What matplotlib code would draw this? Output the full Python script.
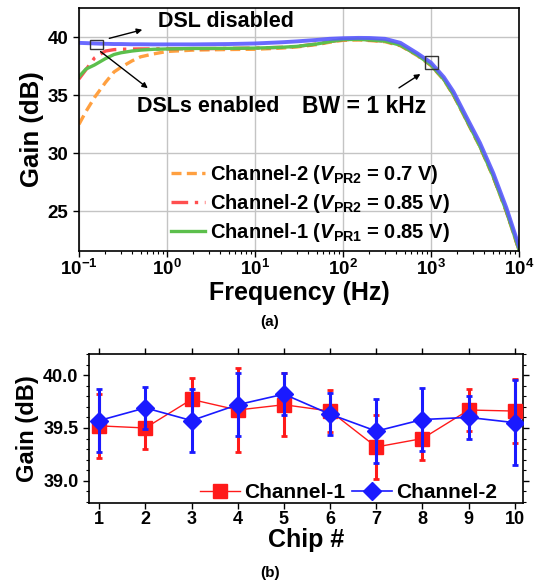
import matplotlib
matplotlib.use("Agg")
import matplotlib.pyplot as plt
import numpy as np
from matplotlib.patches import Rectangle

plt.rcParams["font.family"] = ["Liberation Sans", "DejaVu Sans"]
plt.rcParams["font.weight"] = "bold"
plt.rcParams["mathtext.fontset"] = "custom"
plt.rcParams["mathtext.rm"] = "Liberation Sans:bold"
plt.rcParams["mathtext.bf"] = "Liberation Sans:bold"
plt.rcParams["mathtext.it"] = "Liberation Sans:italic:bold"

# ---- (a) frequency response ----
freq = [0.1, 0.12, 0.15, 0.2, 0.25, 0.3, 0.4, 0.5, 0.7, 1, 2, 5, 10, 20, 30, 50, 70,
        100, 150, 200, 300, 450, 700, 1000, 1400, 1800, 2500, 3600, 5100, 7200, 10000]
gain_dsl_off = [39.5, 39.48, 39.45, 39.42, 39.4, 39.4, 39.38, 39.38, 39.37, 39.37, 39.37,
                39.4, 39.45, 39.55, 39.63, 39.75, 39.85, 39.9, 39.93, 39.92, 39.85, 39.5,
                38.6, 37.8, 36.55, 35.3, 33.2, 30.9, 28.3, 25.3, 22.0]
gain_ch1_085 = [36.6, 37.25, 37.6, 38.15, 38.5, 38.65, 38.8, 38.88, 38.95, 38.98, 39.02,
                39.03, 39.05, 39.12, 39.2, 39.4, 39.6, 39.78, 39.8, 39.75, 39.65, 39.3,
                38.45, 37.6, 36.35, 35.05, 32.95, 30.6, 28.0, 25.0, 21.7]
gain_ch2_085 = [36.4, 37.2, 38.2, 38.8, 38.92, 38.95, 38.97, 38.98, 38.98, 38.99, 39.0,
                39.02, 39.05, 39.12, 39.2, 39.4, 39.6, 39.78, 39.8, 39.75, 39.65, 39.3,
                38.45, 37.6, 36.35, 35.05, 32.95, 30.6, 28.0, 25.0, 21.7]
gain_ch2_07 = [32.5, 33.6, 34.8, 36.1, 37.0, 37.4, 37.95, 38.3, 38.55, 38.76, 38.88,
               38.93, 38.95, 39.05, 39.15, 39.35, 39.55, 39.72, 39.75, 39.7, 39.6, 39.25,
               38.4, 37.55, 36.3, 35.0, 32.9, 30.55, 27.95, 24.95, 21.65]

labels_a = [r"Channel-2 ($V_{\mathrm{PR2}}$ = 0.7 V)",
            r"Channel-2 ($V_{\mathrm{PR2}}$ = 0.85 V)",
            r"Channel-1 ($V_{\mathrm{PR1}}$ = 0.85 V)"]
xticks_a = [0.1, 1, 10, 100, 1000, 10000]
xticklabels_a = [r"$\mathbf{10^{-1}}$", r"$\mathbf{10^{0}}$", r"$\mathbf{10^{1}}$",
                 r"$\mathbf{10^{2}}$", r"$\mathbf{10^{3}}$", r"$\mathbf{10^{4}}$"]
yticks_a = [25, 30, 35, 40]

# ---- (b) gain spread over chips ----
chip = [1, 2, 3, 4, 5, 6, 7, 8, 9, 10]
ch1_gain = [39.52, 39.50, 39.77, 39.67, 39.72, 39.66, 39.32, 39.40, 39.67, 39.66]
ch1_err = [0.30, 0.20, 0.20, 0.40, 0.30, 0.20, 0.30, 0.20, 0.20, 0.30]
ch2_gain = [39.57, 39.69, 39.57, 39.72, 39.82, 39.63, 39.47, 39.58, 39.60, 39.55]
ch2_err = [0.30, 0.20, 0.30, 0.30, 0.20, 0.20, 0.30, 0.30, 0.20, 0.40]
yticks_b = [39.0, 39.5, 40.0]

W, H = 541, 585
fig = plt.figure(figsize=(W / 100, H / 100), dpi=100)

def px(x, y):
    return (x / W, 1 - y / H)

# ---------------- panel (a) ----------------
ax = fig.add_axes([79 / W, 1 - 251 / H, (519 - 79) / W, (251 - 8) / H])
ax.plot(freq, gain_ch2_07, color="#ffa040", lw=2.4, ls=(0, (3, 1.6)), label=labels_a[0])
ax.plot(freq, gain_ch2_085, color="#ff3030", lw=2.4, ls=(0, (5, 2, 1, 2)), alpha=0.85,
        label=labels_a[1])
ax.plot(freq, gain_ch1_085, color="#5cbf4c", lw=2.4, label=labels_a[2])
ax.plot(freq, gain_dsl_off, color="#5a5aff", lw=2.8, alpha=0.9)
ax.set_xscale("log")
ax.set_xlim(0.1, 1e4)
ax.set_ylim(21.6, 42.5)
ax.set_xticks(xticks_a)
ax.set_xticklabels(xticklabels_a)
ax.set_yticks(yticks_a)
ax.grid(True, color="#c4c4c4", lw=1)
ax.set_axisbelow(True)
ax.tick_params(axis="both", which="major", labelsize=13.5, direction="out", length=4, width=1)
ax.tick_params(axis="x", which="minor", direction="out", length=2.5, width=0.8)
ax.tick_params(axis="x", pad=2)
ax.set_xlabel("Frequency (Hz)", fontsize=18, fontweight="bold", labelpad=1)
ax.set_ylabel("Gain (dB)", fontsize=18.5, fontweight="bold", labelpad=3)
for s in ax.spines.values():
    s.set_linewidth(1.2)

# annotation boxes and arrows
ax.add_patch(Rectangle((0.133, 38.99), 0.187 - 0.133, 39.77 - 38.99, fill=False,
                       ec="#333333", lw=1, zorder=5))
ax.add_patch(Rectangle((855, 37.27), 1210 - 855, 38.33 - 37.27, fill=False,
                       ec="#333333", lw=1, zorder=5))
arrow = dict(arrowstyle="-|>", color="black", lw=1, mutation_scale=8)
ax.annotate("", xy=(0.562, 40.69), xytext=(0.206, 39.83), arrowprops=arrow)
ax.annotate("", xy=(0.641, 35.46), xytext=(0.166, 38.9), arrowprops=arrow)
ax.annotate("", xy=(805, 36.95), xytext=(407, 35.5), arrowprops=arrow)
ax.text(0.79, 41.3, "DSL disabled", fontsize=15.5, fontweight="bold", va="center")
ax.text(0.457, 34.0, "DSLs enabled", fontsize=15.5, fontweight="bold", va="center")
ax.text(34.2, 34.0, "BW = 1 kHz", fontsize=16.5, fontweight="bold", va="center")

ax.legend(loc="upper left", bbox_to_anchor=px(171, 163), bbox_transform=fig.transFigure,
          frameon=False, fontsize=14.5, handlelength=1.7, handletextpad=0.25,
          labelspacing=0.3, borderpad=0, borderaxespad=0)

fig.text(*px(270, 322), "(a)", fontsize=11, fontweight="bold", ha="center", va="center")

# ---------------- panel (b) ----------------
bx = fig.add_axes([89 / W, 1 - 503 / H, (522.7 - 89) / W, (503 - 354) / H])
e1 = bx.errorbar(chip, ch1_gain, yerr=ch1_err, color="#ff1a1a", lw=1, elinewidth=2.2,
                 capsize=2, capthick=2, marker="s", ms=10, zorder=3)
e2 = bx.errorbar(chip, ch2_gain, yerr=ch2_err, color="#1a1aff", lw=1.2, elinewidth=2.2,
                 capsize=2, capthick=2, marker="D", ms=9.5, zorder=4)
bx.set_xlim(0.78, 10.17)
bx.set_ylim(38.79, 40.2)
bx.set_xticks(chip)
bx.set_yticks(yticks_b)
bx.set_yticks(np.arange(38.8, 40.25, 0.1), minor=True)
bx.yaxis.set_major_formatter(matplotlib.ticker.FormatStrFormatter("%.1f"))
bx.tick_params(axis="both", which="major", labelsize=13, direction="out", length=4,
               width=1, top=True, right=True)
bx.tick_params(axis="y", which="minor", direction="out", length=2.5, width=0.8, right=True)
bx.tick_params(axis="x", pad=2)
bx.set_xlabel("Chip #", fontsize=18, fontweight="bold", labelpad=0)
bx.set_ylabel("Gain (dB)", fontsize=17, fontweight="bold", labelpad=3)
for s in bx.spines.values():
    s.set_linewidth(1.2)
bx.legend([e1[0], e2[0]], ["Channel-1", "Channel-2"], loc="lower left",
          bbox_to_anchor=px(200, 502), bbox_transform=fig.transFigure,
          ncol=2, frameon=False, fontsize=15, handlelength=1.9, handletextpad=0.2,
          columnspacing=0.35, borderpad=0, borderaxespad=0)

fig.text(*px(270, 573), "(b)", fontsize=11, fontweight="bold", ha="center", va="center")

fig.savefig("out.png", dpi=100)
